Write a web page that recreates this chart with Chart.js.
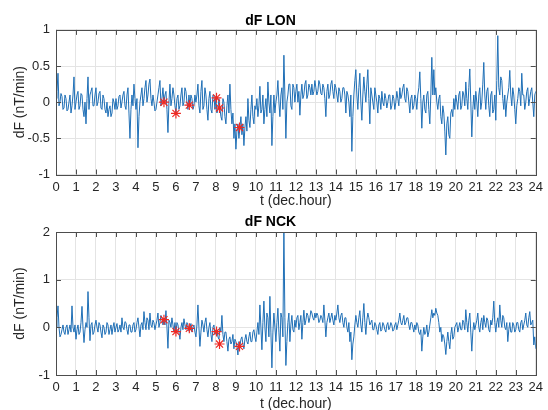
<!DOCTYPE html>
<html>
<head>
<meta charset="utf-8">
<title>dF LON / dF NCK</title>
<script src="https://cdn.jsdelivr.net/npm/chart.js@4.4.1/dist/chart.umd.min.js"></script>
<style>
  html, body { margin: 0; padding: 0; background: #fff; overflow: hidden; }
  #wrap { position: relative; width: 548px; height: 410px; overflow: hidden; }
  .panel { position: absolute; left: 0; width: 548px; height: 210px; }
</style>
</head>
<body>
<div id="wrap">
  <div class="panel" style="top:0"><canvas id="lon"></canvas></div>
  <div class="panel" style="top:206px"><canvas id="nck"></canvas></div>
</div>
<script>
// values: one sample on every 0.1 h (..Values)
// and one in between each of those (..MidValues), 0..24 h
const SAMPLE_STEP = 0.1;

const lonValues = [
  0.05, 0.4, 0.0, 0.08, -0.08, 0.05, -0.1, 0.1, -0.05, 0.35,
  0.0, 0.15, -0.05, 0.1, -0.2, -0.3, 0.35, 0.1, 0.2, -0.05,
  0.2, 0.0, 0.15, -0.1, 0.05, -0.15, -0.2, -0.05, -0.15, 0.0,
  0.05, -0.05, 0.1, 0.0, 0.15, -0.1, 0.2, -0.5, 0.1, 0.25,
  -0.1, -0.63, 0.0, 0.2, 0.05, 0.3, 0.1, 0.32, -0.05, 0.0,
  -0.1, 0.1, 0.3, 0.05, 0.0, 0.15, -0.42, 0.25, 0.05, 0.1,
  -0.15, 0.1, -0.05, 0.2, 0.0, 0.15, -0.1, -0.04, 0.05, -0.05,
  0.0, 0.25, -0.15, 0.3, -0.05, 0.1, -0.25, 0.15, -0.15, 0.1,
  0.05, -0.1, -0.08, -0.25, 0.0, -0.3, 0.1, 0.25, -0.3, -0.5,
  -0.65, -0.3, -0.35, -0.45, -0.6, -0.2, 0.05, -0.35, 0.1, -0.3,
  -0.1, -0.2, 0.22, -0.1, -0.3, 0.05, 0.28, -0.15, -0.6, 0.1,
  0.0, 0.3, -0.2, 0.2, 0.65, -0.5, 0.1, 0.25, -0.1, 0.2,
  0.15, 0.0, -0.18, 0.25, 0.1, 0.3, 0.1, 0.2, 0.25, 0.15,
  0.2, 0.15, 0.25, 0.1, 0.2, -0.2, 0.25, 0.1, 0.3, 0.05,
  0.2, 0.0, 0.15, 0.05, 0.2, -0.15, 0.1, -0.2, -0.68, 0.1,
  0.45, -0.1, 0.4, -0.25, 0.35, 0.0, 0.45, -0.3, 0.1, -0.1,
  0.1, -0.15, 0.05, 0.15, -0.05, 0.05, 0.0, 0.1, -0.05, 0.05,
  0.0, 0.05, 0.2, 0.1, 0.25, 0.0, 0.15, -0.15, 0.1, -0.05,
  0.05, 0.1, 0.42, -0.36, 0.1, -0.15, 0.15, -0.3, 0.62, 0.45,
  0.2, -0.1, 0.1, -0.3, -0.15, -0.73, -0.2, -0.5, -0.1, 0.05,
  0.1, -0.1, 0.15, -0.05, 0.1, 0.28, -0.1, 0.46, -0.48, 0.1,
  0.15, -0.2, 0.2, 0.0, 0.55, -0.1, 0.2, -0.2, 0.15, -0.1,
  -0.25, 0.92, 0.1, 0.3, -0.1, -0.2, 0.1, 0.44, -0.05, 0.1,
  -0.3, 0.05, 0.15, 0.4, 0.1, 0.0, 0.2, 0.05, 0.2, -0.2,
  0.15
];

const lonMidValues = [
  0.15, -0.05, 0.12, -0.1, 0.1, -0.12, 0.0, -0.15, 0.1, -0.1,
  0.1, -0.1, 0.12, -0.1, 0.0, 0.05, -0.1, 0.15, -0.05, 0.1,
  -0.05, 0.12, -0.08, 0.1, -0.1, 0.0, -0.1, -0.2, 0.05, -0.1,
  -0.1, 0.08, -0.08, 0.1, -0.05, 0.1, -0.15, -0.1, -0.05, 0.05,
  0.05, -0.2, 0.1, -0.05, 0.2, 0.0, 0.25, 0.05, 0.1, -0.12,
  0.0, 0.2, -0.05, 0.2, 0.1, -0.1, 0.0, -0.05, 0.2, -0.05,
  0.05, -0.1, 0.1, -0.05, 0.2, 0.0, 0.1, 0.1, -0.1, 0.1,
  0.1, -0.05, 0.15, -0.1, 0.2, -0.1, 0.05, -0.1, 0.1, -0.1,
  -0.15, 0.05, -0.2, 0.05, -0.2, -0.05, -0.15, -0.1, -0.15, -0.3,
  -0.4, -0.5, -0.2, -0.3, -0.35, -0.4, -0.25, -0.1, -0.2, -0.05,
  0.05, -0.05, -0.15, 0.1, -0.1, -0.2, 0.0, 0.1, -0.2, -0.15,
  0.1, 0.0, 0.1, -0.1, 0.1, 0.0, 0.25, -0.05, 0.25, 0.0,
  0.25, 0.15, 0.1, 0.05, 0.25, 0.05, 0.25, 0.1, 0.1, 0.3,
  0.1, 0.3, 0.12, 0.25, 0.05, 0.15, 0.05, 0.25, 0.15, 0.25,
  0.1, 0.2, 0.0, 0.2, 0.1, 0.15, 0.0, 0.1, -0.2, 0.3,
  0.1, 0.2, 0.0, 0.1, 0.15, 0.25, 0.05, 0.2, 0.0, 0.2,
  0.0, 0.1, -0.1, 0.0, 0.12, -0.08, 0.1, -0.1, 0.1, -0.1,
  0.15, -0.05, 0.05, 0.2, 0.05, 0.2, 0.0, 0.05, -0.1, 0.1,
  -0.1, 0.2, 0.05, 0.0, -0.1, 0.1, -0.1, 0.1, 0.1, 0.1,
  0.0, 0.05, -0.2, -0.05, -0.4, -0.3, -0.45, -0.15, -0.2, -0.1,
  0.0, 0.1, -0.1, 0.15, -0.05, 0.05, 0.2, 0.0, -0.1, -0.1,
  0.0, 0.1, -0.1, 0.25, 0.1, 0.15, -0.05, 0.1, -0.15, 0.1,
  0.3, 0.2, 0.35, 0.05, 0.1, 0.0, 0.2, 0.1, 0.2, -0.1,
  -0.05, 0.2, -0.05, 0.1, -0.1, 0.15, -0.05, 0.15, 0.0, 0.1
];

const nckValues = [
  0.0, 0.45, -0.2, -0.05, -0.1, 0.0, -0.15, 0.05, 0.45, -0.1,
  -0.25, 0.05, -0.1, 0.44, -0.32, 0.1, 0.75, -0.28, 0.1, -0.1,
  0.15, -0.1, 0.05, -0.22, 0.0, -0.1, 0.05, -0.05, -0.15, 0.1,
  0.0, -0.1, 0.05, 0.2, -0.05, 0.1, -0.15, 0.05, -0.1, 0.1,
  -0.05, 0.2, -0.2, 0.1, 0.33, -0.05, 0.15, 0.3, 0.0, 0.1,
  0.05, 0.3, 0.1, 0.2, 0.15, 0.35, -0.44, 0.1, 0.2, -0.1,
  -0.1, 0.05, -0.25, 0.1, 0.18, -0.05, 0.05, 0.0, -0.1, 0.05,
  -0.2, 0.47, -0.4, 0.15, -0.1, 0.2, -0.2, 0.1, -0.3, 0.05,
  -0.1, -0.2, 0.0, 0.25, -0.3, -0.1, -0.5, -0.2, -0.3, -0.45,
  -0.3, -0.58, -0.4, -0.2, -0.45, -0.15, -0.35, -0.1, -0.3, -0.05,
  -0.3, 0.1, 0.47, -0.47, 0.55, -0.3, 0.2, 0.65, -0.85, 0.3,
  -0.3, 0.4, -0.5, 0.2, 2.1, -0.8, 0.1, -0.3, 0.25, -0.1,
  0.0, 0.25, 0.1, -0.25, 0.36, 0.15, 0.25, 0.2, 0.3, 0.15,
  0.2, 0.25, 0.15, 0.2, 0.47, -0.2, 0.2, 0.1, 0.3, 0.05,
  0.15, 0.47, 0.1, 0.3, 0.0, 0.2, -0.1, -0.3, -0.68, -0.2,
  0.25, 0.0, 0.35, -0.1, 0.5, -0.15, 0.3, 0.05, 0.15, -0.05,
  0.05, -0.15, 0.1, -0.05, 0.05, -0.1, 0.1, 0.0, 0.05, -0.05,
  0.1, 0.05, 0.3, 0.05, 0.25, 0.1, 0.2, -0.05, 0.1, -0.1,
  -0.05, 0.05, -0.15, -0.5, 0.0, -0.1, -0.2, 0.05, 0.37, 0.3,
  0.4, 0.25, -0.1, -0.3, -0.2, -0.57, -0.1, -0.45, 0.0, -0.2,
  0.05, -0.1, 0.1, -0.05, 0.1, 0.37, -0.1, 0.3, -0.5, 0.1,
  0.05, 0.3, -0.1, 0.2, 0.25, 0.0, 0.15, -0.1, 0.05, 0.55,
  -0.1, 0.2, 0.47, 0.0, 0.2, -0.05, -0.3, 0.1, -0.1, 0.05,
  -0.05, 0.1, -0.1, 0.15, 0.05, 0.3, 0.0, 0.33, 0.1, -0.37,
  -0.45
];

const nckMidValues = [
  0.2, 0.0, -0.15, 0.05, -0.15, 0.05, -0.05, -0.1, 0.0, 0.05,
  -0.05, -0.15, 0.1, 0.0, -0.05, 0.0, 0.2, 0.05, -0.15, 0.05,
  0.0, 0.1, -0.1, 0.05, -0.15, 0.1, -0.15, 0.05, 0.0, -0.1,
  0.08, -0.05, -0.1, 0.0, 0.12, -0.05, 0.05, -0.1, 0.05, -0.1,
  0.1, 0.0, 0.05, -0.05, 0.1, 0.2, -0.05, 0.05, 0.15, -0.05,
  0.15, 0.0, 0.25, 0.05, 0.05, 0.0, 0.15, 0.0, 0.05, 0.1,
  0.1, -0.1, 0.0, -0.05, 0.05, 0.1, -0.08, 0.08, 0.0, -0.1,
  0.05, 0.0, -0.1, 0.05, 0.1, -0.05, 0.0, -0.15, 0.0, -0.15,
  -0.05, -0.25, -0.1, -0.15, -0.1, -0.3, -0.25, -0.35, -0.15, -0.25,
  -0.4, -0.3, -0.25, -0.35, -0.25, -0.3, -0.2, -0.3, -0.1, -0.2,
  -0.1, -0.15, 0.0, 0.1, 0.0, 0.3, -0.2, -0.1, -0.1, 0.0,
  0.1, -0.1, 0.3, -0.2, 0.2, -0.3, 0.3, 0.05, -0.05, 0.15,
  0.2, -0.05, 0.25, 0.1, 0.05, 0.3, 0.1, 0.35, 0.2, 0.3,
  0.3, 0.1, 0.25, 0.1, 0.15, 0.1, 0.3, 0.2, 0.15, 0.25,
  0.3, 0.2, 0.25, 0.1, 0.2, 0.0, 0.1, -0.1, -0.35, 0.05,
  0.1, 0.2, 0.05, 0.2, 0.1, 0.15, 0.2, 0.1, -0.05, 0.1,
  -0.05, 0.05, -0.08, 0.1, -0.05, 0.05, -0.05, 0.1, -0.08, 0.05,
  -0.05, 0.15, 0.1, 0.15, 0.05, 0.2, 0.05, 0.1, 0.0, 0.05,
  0.1, -0.1, -0.05, -0.2, -0.15, 0.05, -0.1, 0.2, 0.2, 0.25,
  0.3, 0.1, 0.0, -0.15, -0.35, -0.3, -0.3, -0.15, -0.25, 0.0,
  0.1, 0.0, -0.05, 0.15, -0.05, 0.1, 0.15, -0.1, -0.1, -0.05,
  0.15, 0.0, 0.1, -0.05, 0.1, 0.2, -0.05, 0.15, 0.2, 0.1,
  0.1, 0.0, 0.15, 0.25, 0.0, 0.1, -0.05, -0.1, 0.1, -0.1,
  0.1, -0.05, 0.1, -0.05, 0.15, 0.05, 0.2, 0.05, 0.15, -0.2
];

// red star markers (events)
const eventHours = [5.4, 6.0, 6.67, 8.03, 8.18, 9.18];
const lonEventValues = [0.0, -0.155, -0.04, 0.06, -0.08, -0.35];
const nckEventValues = [0.16, -0.09, -0.02, -0.09, -0.35, -0.4];

// tick labels
const hourTicks = [0,1,2,3,4,5,6,7,8,9,10,11,12,13,14,15,16,17,18,19,20,21,22,23,24];
const lonTicks = [-1, -0.5, 0, 0.5, 1];
const nckTicks = [-1, 0, 1, 2];

const FONT = "'Liberation Sans', Arial, Helvetica, sans-serif";
Chart.defaults.font.family = FONT;
Chart.defaults.font.size = 13;
Chart.defaults.color = '#262626';

// merge the on-step and half-step readings into one time series
function toPoints(vals, mids) {
  const pts = [];
  vals.forEach((v, i) => {
    pts.push({ x: +(i * SAMPLE_STEP).toFixed(2), y: v });
    if (i < mids.length) pts.push({ x: +((i + 0.5) * SAMPLE_STEP).toFixed(2), y: mids[i] });
  });
  return pts;
}
const toEvents = (vals) => eventHours.map((h, i) => ({ x: h, y: vals[i] }));

// matlab-like box with inward tick marks
const matlabBox = {
  id: 'matlabBox',
  afterDraw(chart) {
    const { ctx, chartArea: a, scales: { x, y } } = chart;
    const len = 5;
    ctx.save();
    ctx.strokeStyle = '#4d4d4d';
    ctx.lineWidth = 1;
    ctx.beginPath();
    x.ticks.forEach(t => {
      const px = Math.round(x.getPixelForValue(t.value)) + 0.5;
      ctx.moveTo(px, a.bottom); ctx.lineTo(px, a.bottom - len);
      ctx.moveTo(px, a.top); ctx.lineTo(px, a.top + len);
    });
    y.ticks.forEach(t => {
      const py = Math.round(y.getPixelForValue(t.value)) + 0.5;
      ctx.moveTo(a.left, py); ctx.lineTo(a.left + len, py);
      ctx.moveTo(a.right, py); ctx.lineTo(a.right - len, py);
    });
    ctx.stroke();
    ctx.strokeRect(Math.round(a.left) + 0.5, Math.round(a.top) + 0.5,
      Math.round(a.width), Math.round(a.height));
    ctx.restore();
  }
};

function makePanel(id, title, values, mids, events, yTicks, geo) {
  return new Chart(document.getElementById(id), {
    type: 'line',
    data: {
      datasets: [
        {
          data: toEvents(events),
          showLine: false,
          pointStyle: 'star',
          pointRadius: 5,
          pointBorderColor: '#ee2a24',
          pointBorderWidth: 1.2,
          pointBackgroundColor: '#ee2a24'
        },
        {
          data: toPoints(values, mids),
          borderColor: '#1f6fb6',
          borderWidth: 1,
          pointRadius: 0,
          tension: 0
        }
      ]
    },
    options: {
      responsive: true,
      maintainAspectRatio: false,
      animation: false,
      events: [],
      layout: { padding: { top: geo.padTop, right: 7, bottom: 0, left: 0 } },
      plugins: {
        legend: { display: false },
        tooltip: { enabled: false },
        title: {
          display: true,
          text: title,
          color: '#000',
          font: { size: 14, weight: 'bold' },
          padding: { top: 0, bottom: geo.titleGap }
        }
      },
      scales: {
        x: {
          type: 'linear',
          min: 0,
          max: 24,
          afterBuildTicks: s => { s.ticks = hourTicks.map(v => ({ value: v })); },
          afterFit: s => { s.height = geo.xHeight; },
          ticks: { autoSkip: false, maxRotation: 0, padding: 5, callback: v => String(v) },
          grid: { color: '#e4e4e4', drawTicks: false },
          border: { display: false },
          title: { display: true, text: 't (dec.hour)', font: { size: 14 }, padding: { top: 0, bottom: geo.xTitlePad } }
        },
        y: {
          min: yTicks[0],
          max: yTicks[yTicks.length - 1],
          afterBuildTicks: s => { s.ticks = yTicks.map(v => ({ value: v })); },
          afterFit: s => { s.width = 56; },
          ticks: { padding: 6, callback: v => String(v) },
          grid: { color: '#e4e4e4', drawTicks: false },
          border: { display: false },
          title: { display: true, text: 'dF (nT/min)', font: { size: 14 }, padding: { top: 12, bottom: 0 } }
        }
      }
    },
    plugins: [matlabBox]
  });
}

makePanel('lon', 'dF LON', lonValues, lonMidValues, lonEventValues, lonTicks,
  { padTop: 13.1, titleGap: 0, xHeight: 35.5, xTitlePad: 0.6 });
makePanel('nck', 'dF NCK', nckValues, nckMidValues, nckEventValues, nckTicks,
  { padTop: 7.6, titleGap: 1.6, xHeight: 41, xTitlePad: 3.6 });
</script>
</body>
</html>
